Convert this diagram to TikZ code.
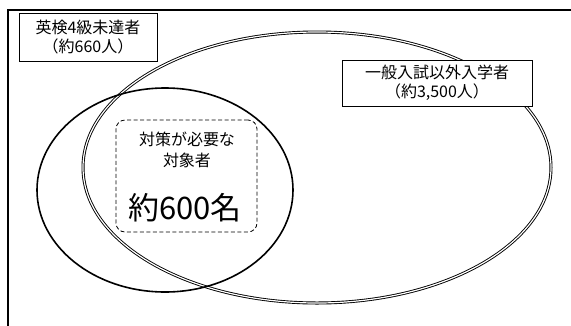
\documentclass[tikz,border=0pt]{standalone}
\usepackage{fontspec}
\setmainfont{Noto Sans CJK JP}
\usepackage{tikz}

\tikzset{
  labelbox/.style={draw, line width=0.8pt, fill=white, align=center, inner sep=0pt,
                   font=\fontsize{16}{18.5}\selectfont},
  dashbox/.style={draw, line width=0.8pt, dash pattern=on 4pt off 2.5pt, rounded corners=9pt, inner sep=0pt}
}

\begin{document}
\begin{tikzpicture}[x=1pt,y=-1pt]
      \useasboundingbox (0,0) rectangle (571,325);
      %%%%%%%%%%%%%%%%%%%%%%%%%%%%%%%%%%%%%%%%%%%%%%%
      \draw[line width=1.7pt] (8,340) -- (8,10) -- (590,10);
      %%%%%%%%%%%%%%%%%%%%%%%%%%%%%%%%%%%%%%%%%%%%%%%
      \draw[line width=0.9pt, double, double distance=1.2pt] (317,167.5) ellipse (234 and 135.5);
      \draw[line width=1.6pt] (165,190) ellipse (128 and 102);
      %%%%%%%%%%%%%%%%%%%%%%%%%%%%%%%%%%%%%%%%%%%%%%%
      \node[labelbox, minimum width=138, minimum height=48] at (88,37) (eiken) {英検4級未達者\\（約660人）};
      \node[labelbox, minimum width=190, minimum height=46] at (437,83) (general) {一般入試以外入学者\\（約3,500人）};
      %%%%%%%%%%%%%%%%%%%%%%%%%%%%%%%%%%%%%%%%%%%%%%%
      \node[dashbox, minimum width=141, minimum height=112] at (186.5,176) (target) {};
      \node[align=center, font=\fontsize{16}{21}\selectfont] at (187,150) (need) {対策が必要な\\対象者};
      \node[font=\fontsize{31}{36}\selectfont] at (185,208) (count) {約600名};
      %%%%%%%%%%%%%%%%%%%%%%%%%%%%%%%%%%%%%%%%%%%%%%%
\end{tikzpicture}
\end{document}
